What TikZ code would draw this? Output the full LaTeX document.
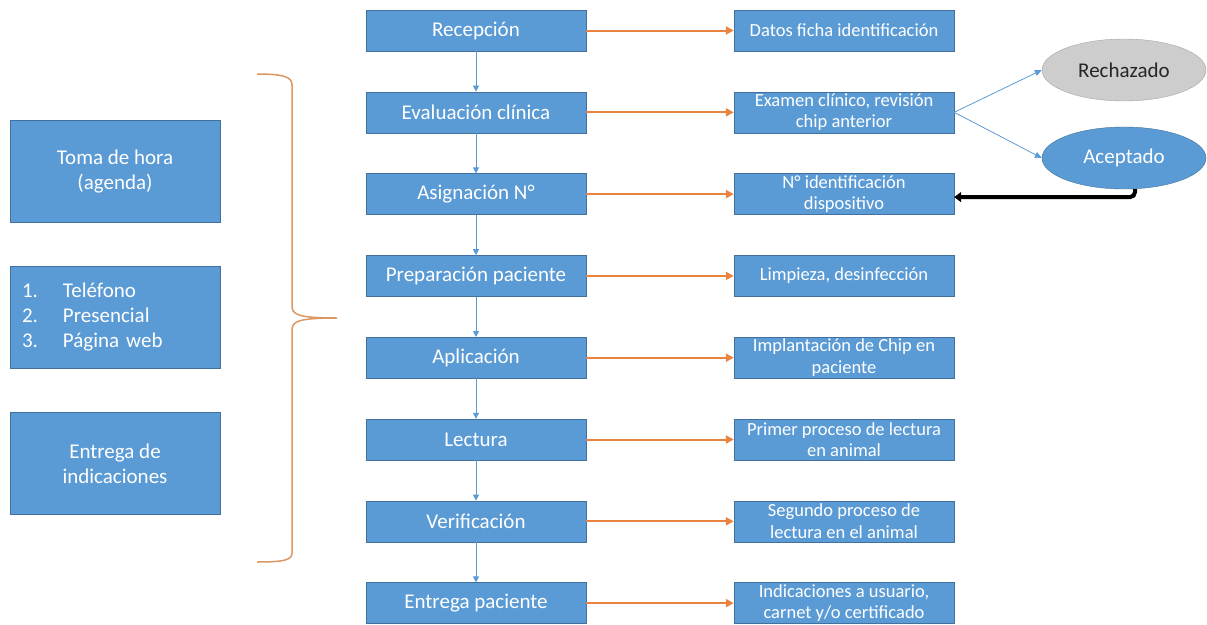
\documentclass[tikz,border=0pt]{standalone}
\usepackage{fontspec}
\setmainfont{Carlito}
\usetikzlibrary{arrows.meta,shapes.geometric}

\definecolor{azul}{HTML}{5B9BD5}
\definecolor{borde}{HTML}{41719C}
\definecolor{naranja}{HTML}{E8843F}
\definecolor{llave}{HTML}{DC9660}
\definecolor{gris}{HTML}{CDCDCD}
\definecolor{grisborde}{HTML}{A5A5A5}

\begin{document}
\begin{tikzpicture}[x=1pt, y=-1pt,
        paso/.style={rectangle, draw=borde, fill=azul, text=white, inner sep=0pt, align=center,
            minimum width=220pt, minimum height=41pt, font=\fontsize{21}{25}\selectfont},
        dato/.style={paso, font=\fontsize{18.5}{21.5}\selectfont},
        lado/.style={paso, minimum width=210pt, minimum height=102pt},
        rechazo/.style={ellipse, draw=grisborde, fill=gris, text={black!85}, inner sep=0pt,
            minimum width=164pt, minimum height=62pt, font=\fontsize{21}{25}\selectfont},
        acepto/.style={rechazo, draw=borde, fill=azul, text=white},
        bajada/.style={-{Triangle[length=6pt, width=6pt]}, azul, line width=1pt},
        flecha/.style={-{Triangle[length=8pt, width=8pt]}, naranja, line width=2pt},
        rama/.style={-{Triangle[length=7pt, width=6pt]}, azul, line width=0.8pt},
        regreso/.style={-{Triangle[length=7pt, width=10pt]}, black, line width=4pt, rounded corners=5pt}]
    \useasboundingbox (0, 0) rectangle (1207, 624);

    % columna izquierda
    \draw (115, 171.5) node[lado](l1){Toma de hora\\(agenda)}
        (115, 317.5) node[lado, align=left, text width=186pt](l2){\begin{tabular}{@{}p{41pt}@{}l@{}}1. & Teléfono\\2. & Presencial\\3. & Página web\end{tabular}}
        (115, 463.5) node[lado](l3){Entrega de\\indicaciones};

    % llave
    \draw[llave, line width=1.5pt] (257, 74) .. controls (284, 74) and (292, 77) .. (292, 85) -- (292, 305)
        .. controls (292, 314) and (295, 318) .. (337, 318)
        .. controls (295, 318) and (292, 322) .. (292, 331) -- (292, 553)
        .. controls (292, 560) and (284, 562) .. (257, 562);

    % pasos
    \draw (476, 30.5) node[paso](p1){Recepción}
        (476, 112.3) node[paso](p2){Evaluación clínica}
        (476, 194.1) node[paso](p3){Asignación N°}
        (476, 275.9) node[paso](p4){Preparación paciente}
        (476, 357.7) node[paso](p5){Aplicación}
        (476, 439.5) node[paso](p6){Lectura}
        (476, 521.3) node[paso](p7){Verificación}
        (476, 603.1) node[paso](p8){Entrega paciente};

    % detalle de cada paso
    \draw (844, 30.5) node[dato](d1){Datos ficha identificación}
        (844, 112.3) node[dato](d2){Examen clínico, revisión\\chip anterior}
        (844, 194.1) node[dato](d3){N° identificación\\dispositivo}
        (844, 275.9) node[dato](d4){Limpieza, desinfección}
        (844, 357.7) node[dato](d5){Implantación de Chip en\\paciente}
        (844, 439.5) node[dato](d6){Primer proceso de lectura\\en animal}
        (844, 521.3) node[dato](d7){Segundo proceso de\\lectura en el animal}
        (844, 603.1) node[dato](d8){Indicaciones a usuario,\\carnet y/o certificado};

    \draw (1124, 70) node[rechazo](re){Rechazado}
        (1124, 158) node[acepto](ac){Aceptado};

    \draw[bajada] (p1) -- (p2);
    \draw[bajada] (p2) -- (p3);
    \draw[bajada] (p3) -- (p4);
    \draw[bajada] (p4) -- (p5);
    \draw[bajada] (p5) -- (p6);
    \draw[bajada] (p6) -- (p7);
    \draw[bajada] (p7) -- (p8);

    \draw[flecha] (p1) -- (d1);
    \draw[flecha] (p2) -- (d2);
    \draw[flecha] (p3) -- (d3);
    \draw[flecha] (p4) -- (d4);
    \draw[flecha] (p5) -- (d5);
    \draw[flecha] (p6) -- (d6);
    \draw[flecha] (p7) -- (d7);
    \draw[flecha] (p8) -- (d8);

    \draw[rama] (d2.east) -- (re.west);
    \draw[rama] (d2.east) -- (ac.west);
    \draw[regreso] ([xshift=11pt]ac.south) |- ([yshift=-3pt]d3.east);
\end{tikzpicture}
\end{document}
